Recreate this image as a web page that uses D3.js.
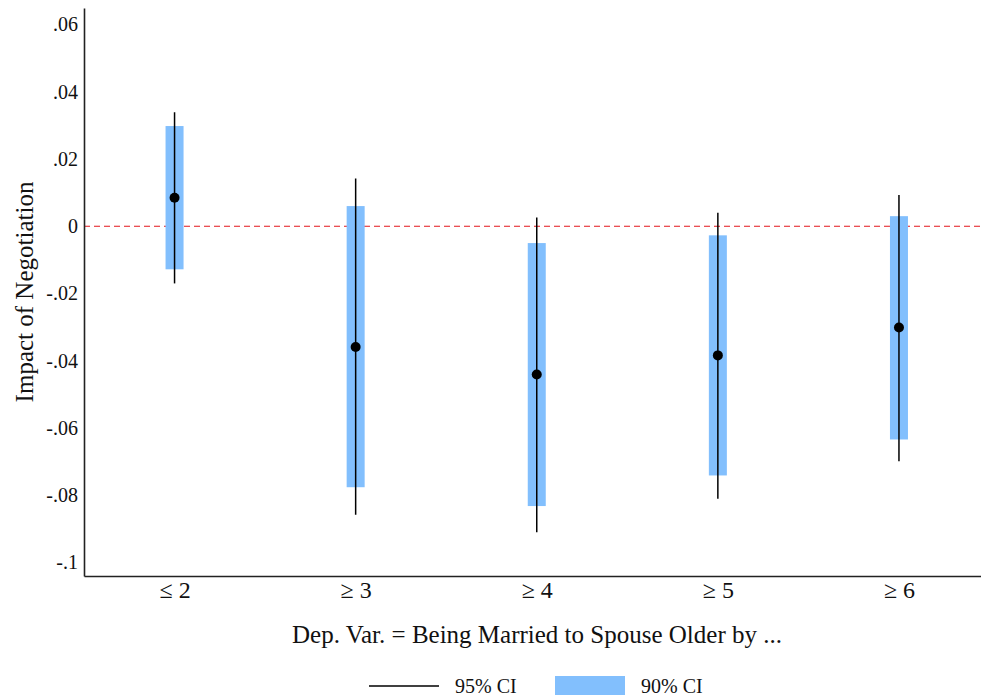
<!DOCTYPE html>
<html>
<head>
<meta charset="utf-8">
<script src="https://cdn.jsdelivr.net/npm/d3@7"></script>
<style>
  body { margin: 0; background: #fff; }
  svg { display: block; font-family: "Liberation Serif", "Times New Roman", serif; }
</style>
</head>
<body>
<div id="chart"></div>
<script>
// Data
const categories = ['\u2264 2', '\u2265 3', '\u2265 4', '\u2265 5', '\u2265 6'];
const estimates = [0.0085, -0.0359, -0.0441, -0.0384, -0.0301];
const ci90Low = [-0.0128, -0.0776, -0.0832, -0.0741, -0.0634];
const ci90High = [0.0298, 0.0060, -0.0050, -0.0027, 0.0030];
const ci95Low = [-0.0170, -0.0858, -0.0910, -0.0810, -0.0699];
const ci95High = [0.0339, 0.0142, 0.0026, 0.0040, 0.0093];
const yTicks = [-0.1, -0.08, -0.06, -0.04, -0.02, 0, 0.02, 0.04, 0.06];

const width = 981;
const height = 698;
const margin = { top: 8, right: 0, bottom: 122, left: 84 };
const serif = '"Liberation Serif", "Times New Roman", serif';

const svg = d3.select('#chart').append('svg')
  .attr('width', width)
  .attr('height', height);

const xScale = d3.scaleLinear()
  .domain([0.5, 5.453])
  .range([margin.left, width - margin.right]);

const yScale = d3.scaleLinear()
  .domain([-0.104, 0.0649])
  .range([height - margin.bottom, margin.top]);

// stata style labels: .02, -.04, 0 (plain hyphen)
const fmt = (v) => {
  if (Math.abs(v) < 1e-9) return '0';
  const s = Math.abs(v).toFixed(2).replace(/0+$/, '').replace(/^0/, '');
  return (v < 0 ? '-' : '') + s;
};

// zero reference line
svg.append('line')
  .attr('x1', margin.left)
  .attr('x2', width - margin.right)
  .attr('y1', yScale(0))
  .attr('y2', yScale(0))
  .attr('stroke', '#e3161c')
  .attr('stroke-width', 1)
  .attr('stroke-dasharray', '6,4');

// Y axis
const yAxis = d3.axisLeft(yScale)
  .tickValues(yTicks)
  .tickSize(0)
  .tickPadding(6)
  .tickFormat(fmt);

const gy = svg.append('g')
  .attr('class', 'y axis')
  .attr('transform', `translate(${margin.left}, 0)`)
  .call(yAxis)
  .attr('font-family', serif);
gy.select('.domain').attr('stroke', '#222').attr('stroke-width', 1.6);
gy.selectAll('text').attr('font-size', 20).attr('fill', '#111');

// X axis
const xAxis = d3.axisBottom(xScale)
  .tickValues(d3.range(1, categories.length + 1))
  .tickSize(0)
  .tickPadding(5)
  .tickFormat((d) => categories[d - 1]);

const gx = svg.append('g')
  .attr('class', 'x axis')
  .attr('transform', `translate(0, ${height - margin.bottom})`)
  .call(xAxis)
  .attr('font-family', serif);
gx.select('.domain').attr('stroke', '#222').attr('stroke-width', 1.6);
gx.selectAll('text').attr('font-size', 24).attr('fill', '#111');

// 90% CI bars
const idx = d3.range(categories.length);
svg.append('g').selectAll('rect')
  .data(idx)
  .join('rect')
  .attr('x', (i) => xScale(i + 1) - 9)
  .attr('width', 18)
  .attr('y', (i) => yScale(ci90High[i]))
  .attr('height', (i) => yScale(ci90Low[i]) - yScale(ci90High[i]))
  .attr('fill', '#82bffd');

// 95% CI lines
svg.append('g').selectAll('line')
  .data(idx)
  .join('line')
  .attr('x1', (i) => xScale(i + 1))
  .attr('x2', (i) => xScale(i + 1))
  .attr('y1', (i) => yScale(ci95High[i]))
  .attr('y2', (i) => yScale(ci95Low[i]))
  .attr('stroke', '#000')
  .attr('stroke-width', 1.5);

// point estimates
svg.append('g').selectAll('circle')
  .data(idx)
  .join('circle')
  .attr('cx', (i) => xScale(i + 1))
  .attr('cy', (i) => yScale(estimates[i]))
  .attr('r', 5)
  .attr('fill', '#000');

// axis titles
svg.append('text')
  .attr('transform', `translate(33, ${(margin.top + height - margin.bottom) / 2}) rotate(-90)`)
  .attr('text-anchor', 'middle')
  .attr('font-size', 25)
  .attr('fill', '#111')
  .text('Impact of Negotiation');

svg.append('text')
  .attr('x', 537)
  .attr('y', 643)
  .attr('text-anchor', 'middle')
  .attr('font-size', 25)
  .attr('fill', '#111')
  .text('Dep. Var. = Being Married to Spouse Older by ...');

// legend
const legend = svg.append('g').attr('transform', 'translate(0, 686)');
legend.append('line')
  .attr('x1', 369).attr('x2', 439)
  .attr('y1', 0).attr('y2', 0)
  .attr('stroke', '#000').attr('stroke-width', 1.5);
legend.append('text')
  .attr('x', 455).attr('y', 7)
  .attr('font-size', 20).attr('fill', '#111')
  .text('95% CI');
legend.append('rect')
  .attr('x', 555).attr('y', -10)
  .attr('width', 70).attr('height', 19)
  .attr('fill', '#82bffd');
legend.append('text')
  .attr('x', 641).attr('y', 7)
  .attr('font-size', 20).attr('fill', '#111')
  .text('90% CI');
</script>
</body>
</html>
